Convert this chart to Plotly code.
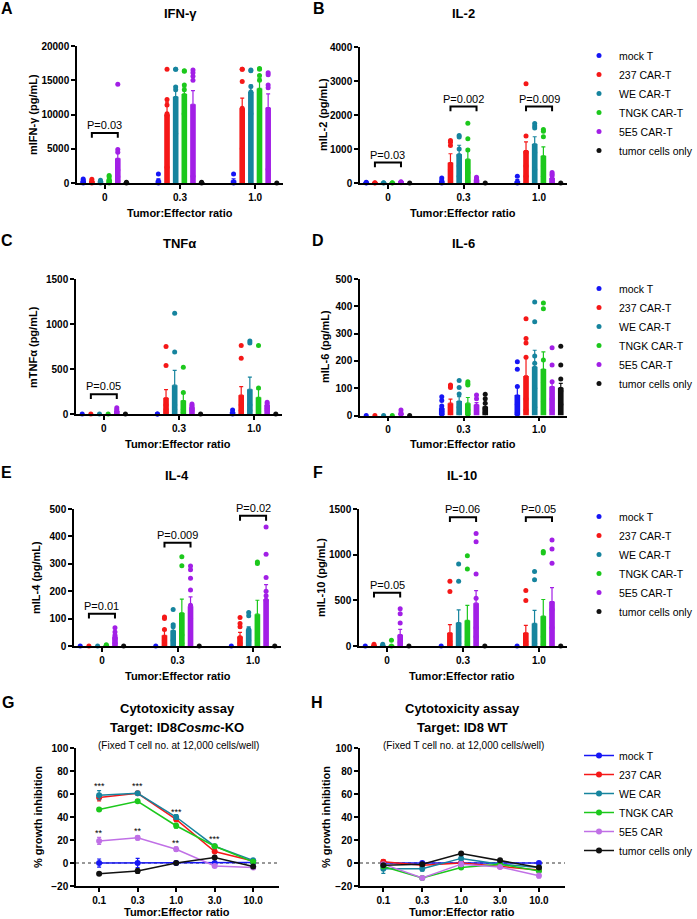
import plotly.graph_objects as go

W, H = 697, 919
FONT = "Liberation Sans, Arial, sans-serif"

# ---------------- data ----------------
groups = ["0", "0.3", "1.0"]
series = ["mock T", "237 CAR-T", "WE CAR-T", "TNGK CAR-T", "5E5 CAR-T", "tumor cells only"]
colors = ["#1616f5", "#f51818", "#16849e", "#1cc81c", "#a21fe6", "#111111"]

# IFN-gamma (pg/mL): bar = mean, err = SEM (upper), pts = individual wells
ifng_mean = [[300, 350, 350], [250, 10000, 10900], [150, 12600, 13300],
             [500, 13000, 13800], [3600, 11500, 11000], [100, 100, 0]]
ifng_err = [[100, 250, 250], [100, 1800, 1500], [60, 1500, 1000],
            [200, 1000, 1500], [1100, 2000, 2000], [30, 40, 0]]
ifng_pts = [
    [[600, 400, 150, 0], [1300, 300, 0], [1300, 150, 0]],
    [[550, 300, 100, 0], [16600, 12200, 11400, 10100, 9900, 2300], [16600, 16600, 14800, 10900, 5000]],
    [[400, 150, 0], [16600, 16600, 14000, 13600, 7200], [16500, 16400, 14100, 13300, 10100]],
    [[1100, 900, 500, 200, 0], [16400, 16300, 14300, 13600, 10200, 10000], [16700, 16600, 15700, 15000, 10100]],
    [[14400, 4900, 4500, 1900, 900, 300], [16500, 16100, 15600, 15000, 1000], [16100, 15800, 14300, 13900, 2000]],
    [[100, 0], [100, 0], [0]],
]
ifng_p = [(0, 7300, "P=0.03")]

# IL-2
il2_mean = [[10, 50, 60], [10, 600, 950], [5, 850, 1150], [5, 700, 800], [30, 100, 150], [0, 0, 0]]
il2_err = [[5, 30, 40], [5, 260, 260], [5, 260, 210], [5, 300, 260], [10, 30, 50], [0, 0, 0]]
il2_pts = [
    [[20, 0, 10], [150, 70, 0], [200, 20, 0]],
    [[10, 0], [1250, 1200, 1100, 400, 150, 100], [2920, 1380, 900, 500, 200]],
    [[5, 0], [1400, 1350, 1000, 800, 500, 200], [1750, 1680, 1620, 900, 400]],
    [[5, 0], [1760, 1300, 970, 300, 50], [1570, 1520, 1360, 500, 200]],
    [[40, 20, 10], [170, 120, 70, 40], [310, 260, 210, 120, 40]],
    [[0], [0], [0]],
]
il2_p = [(0, 600, "P=0.03"), (1, 2250, "P=0.002"), (2, 2250, "P=0.009")]

# TNF-alpha
tnf_mean = [[0, 0, 15], [0, 180, 210], [0, 320, 275], [0, 150, 185], [35, 75, 100], [0, 0, 0]]
tnf_err = [[0, 0, 15], [0, 90, 95], [0, 165, 135], [0, 80, 90], [15, 15, 15], [0, 0, 0]]
tnf_pts = [
    [[0], [0, 0], [45, 10, 0]],
    [[0], [750, 540, 100, 50, 20], [760, 620, 100, 40]],
    [[0], [1120, 690, 100, 50], [810, 790, 100, 40]],
    [[0], [520, 240, 50, 20], [760, 290, 60, 30]],
    [[70, 50, 30, 10], [110, 95, 80, 60, 40], [130, 110, 90, 60, 40]],
    [[0], [0], [0]],
]
tnf_p = [(0, 219, "P=0.05")]

# IL-6
il6_mean = [[0, 27, 75], [0, 45, 145], [0, 53, 179], [0, 45, 170], [8, 39, 106], [0, 33, 102]]
il6_err = [[0, 8, 30], [0, 15, 64], [0, 16, 60], [0, 21, 63], [4, 8, 18], [0, 10, 16]]
il6_pts = [
    [[0], [69, 55, 35, 25, 15, 5], [197, 169, 106, 40, 10, 5]],
    [[0], [112, 108, 103, 30, 10], [354, 282, 266, 213, 60, 20]],
    [[0], [128, 103, 79, 30, 10], [416, 343, 218, 191, 100, 30]],
    [[0], [124, 116, 112, 20, 5], [412, 391, 203, 120, 50]],
    [[20, 10, 5], [75, 61, 35, 15], [248, 185, 124, 60, 20]],
    [[0], [78, 61, 45, 25, 10], [254, 185, 134, 90, 40]],
]
il6_p = []

# IL-4
il4_mean = [[0, 0, 0], [0, 39, 35], [0, 57, 60], [3, 121, 116], [35, 145, 171], [0, 0, 0]]
il4_err = [[0, 0, 0], [0, 18, 15], [0, 25, 10], [2, 50, 51], [10, 34, 53], [0, 0, 0]]
il4_pts = [
    [[0], [0], [0]],
    [[0], [106, 100, 60, 20, 5], [104, 82, 70, 30, 10]],
    [[0], [133, 78, 70, 20], [122, 110, 61, 20]],
    [[5, 2], [326, 293, 40, 10], [307, 301, 20]],
    [[67, 51, 39, 27, 10], [292, 278, 247, 204, 149, 100], [434, 335, 250, 200, 183, 167]],
    [[0], [0], [0]],
]
il4_p = [(0, 118, "P=0.01"), (1, 377, "P=0.009"), (2, 475, "P=0.02")]

# IL-10
il10_mean = [[0, 0, 0], [10, 145, 145], [10, 255, 247], [5, 280, 327], [124, 469, 487], [0, 0, 0]]
il10_err = [[0, 0, 0], [5, 88, 80], [5, 141, 142], [5, 164, 182], [58, 138, 153], [0, 0, 0]]
il10_pts = [
    [[0], [0], [0]],
    [[20, 5], [709, 596, 50, 20], [607, 498, 50, 20]],
    [[20, 5], [898, 709, 100, 30], [815, 724, 100, 30]],
    [[62, 0], [989, 844, 50, 20], [1036, 1018, 100, 20]],
    [[407, 353, 251, 98, 40], [1233, 1142, 789, 524, 200, 100], [1160, 1062, 905, 400, 200]],
    [[0], [0], [0]],
]
il10_p = [(0, 584, "P=0.05"), (1, 1411, "P=0.06"), (2, 1411, "P=0.05")]

# cytotoxicity (% growth inhibition)
ratios = ["0.1", "0.3", "1.0", "3.0", "10.0"]
cyto_names = ["mock T", "237 CAR", "WE CAR", "TNGK CAR", "5E5 CAR", "tumor cells only"]
cyto_colors = ["#1616f5", "#f51818", "#16849e", "#1cc81c", "#c070e6", "#111111"]
ko_mean = [[0, 0, 0, 0, 0.5], [57, 60.6, 38, 10, 1.7], [59, 60.6, 40, 14.6, 2.3],
           [46.6, 53.6, 32.4, 14.6, 1], [19.2, 21.9, 12, -2.6, -4], [-9.3, -7, 0, 4.7, -3]]
ko_err = [[3.5, 4, 1.5, 1, 1], [3, 1, 2, 1, 1], [4, 1, 2, 1.5, 1],
          [1, 1, 2, 1, 1], [3, 2, 2, 1, 1], [1, 2, 1, 1, 1]]
ko_stars = [(0, 69, "***"), (1, 69, "***"), (2, 46.5, "***"), (3, 22.5, "***"),
            (0, 28, "**"), (1, 29.5, "**"), (2, 19, "**")]
wt_mean = [[0, 0, 0, 0, 0], [1, -2, 0, -3, -6], [-5, -5, 4, -1, -4],
           [-3, -13, -4, -1, -7], [-1, -13, -1, -3.5, -11], [-2, -1, 8.2, 2.3, -4]]
wt_err = [[1, 1, 1, 1, 1], [2, 1, 1, 1, 2], [4, 2, 2, 1, 1],
          [1, 1, 1, 1, 1], [1, 1, 2, 1, 2], [1, 1, 1, 1, 1]]


# ---------------- helpers ----------------
def fx(p):
    return p / W


def fy(p):
    return 1 - p / H


BAR_STEP = 0.115
BAR_W = 0.075

fig = go.Figure()
layout = {}
annotations = []
shapes = []


def text(x, y, s, size=11, angle=0, **kw):
    annotations.append(dict(x=fx(x), y=fy(y), xref="paper", yref="paper", text=s,
                            showarrow=False, textangle=angle, xanchor="center",
                            yanchor="middle", font=dict(family=FONT, size=size, color="black"), **kw))


def axis_style():
    return dict(showline=True, linecolor="black", linewidth=1.5, ticks="outside",
                ticklen=4, tickwidth=1.5, tickcolor="black", showgrid=False, zeroline=False,
                automargin=False, tickformat="d",
                tickfont=dict(family=FONT, size=10, color="black", weight="bold"))


def bar_panel(n, box, ymax, dtick, mean, err, pts, brackets, legend=None):
    xa, ya = f"x{n}", f"y{n}"
    x0, x1, ytop, ybot = box
    layout[f"xaxis{n}"] = dict(axis_style(), domain=[fx(x0), fx(x1)], anchor=ya,
                               range=[-0.37, 2.37], tickvals=[0, 1, 2], ticktext=groups)
    layout[f"yaxis{n}"] = dict(axis_style(), domain=[fy(ybot), fy(ytop)], anchor=xa,
                               range=[0, ymax], dtick=dtick, tick0=0)
    for i in range(len(series)):
        xs = [g + (i - 2.5) * BAR_STEP for g in range(3)]
        fig.add_trace(go.Bar(x=xs, y=mean[i], width=BAR_W, marker_color=colors[i],
                             marker_line_width=0, showlegend=False, xaxis=xa, yaxis=ya,
                             error_y=dict(type="data", symmetric=False, array=err[i],
                                          arrayminus=[0, 0, 0], color=colors[i],
                                          thickness=1.2, width=2)))
    for i, name in enumerate(series):
        px_, py_ = [], []
        for g in range(3):
            for v in pts[i][g]:
                px_.append(g + (i - 2.5) * BAR_STEP)
                py_.append(v)
        fig.add_trace(go.Scatter(x=px_, y=py_, mode="markers", name=name, cliponaxis=False,
                                 marker=dict(size=5, color=colors[i]), xaxis=xa, yaxis=ya,
                                 showlegend=legend is not None, legend=legend or "legend"))
    drop = ymax * 0.035
    for g, yb, label in brackets:
        a = g + (1 - 2.5) * BAR_STEP
        b = g + (4 - 2.5) * BAR_STEP
        shapes.append(dict(type="path", xref=xa, yref=ya, line=dict(color="black", width=2),
                           path=f"M {a},{yb - drop} L {a},{yb} L {b},{yb} L {b},{yb - drop}"))
        annotations.append(dict(x=(a + b) / 2, y=yb, xref=xa, yref=ya, text=label,
                                showarrow=False, yanchor="bottom", yshift=0,
                                font=dict(family=FONT, size=11, color="black")))


def line_panel(n, box, mean, err, legend=None):
    xa, ya = f"x{n}", f"y{n}"
    x0, x1, ytop, ybot = box
    layout[f"xaxis{n}"] = dict(axis_style(), domain=[fx(x0), fx(x1)], anchor=ya,
                               range=[-0.6, 4.67], tickvals=list(range(5)), ticktext=ratios)
    layout[f"yaxis{n}"] = dict(axis_style(), domain=[fy(ybot), fy(ytop)], anchor=xa,
                               range=[-20, 100], dtick=20, tick0=-20)
    shapes.append(dict(type="line", xref=f"{xa} domain", yref=ya, x0=0, x1=1, y0=0, y1=0,
                       layer="below", line=dict(color="#333333", width=1, dash="dot")))
    for i, name in enumerate(cyto_names):
        fig.add_trace(go.Scatter(x=list(range(5)), y=mean[i], mode="lines+markers", name=name,
                                 line=dict(color=cyto_colors[i], width=1.5),
                                 marker=dict(size=6, color=cyto_colors[i]), cliponaxis=False,
                                 error_y=dict(type="data", array=err[i], color=cyto_colors[i],
                                              thickness=1.2, width=2),
                                 xaxis=xa, yaxis=ya, showlegend=legend is not None,
                                 legend=legend or "legend"))


# ---------------- panels ----------------
bar_panel(1, (77, 283, 46, 183), 20000, 5000, ifng_mean, ifng_err, ifng_pts, ifng_p)
bar_panel(2, (360, 567, 47, 183), 4000, 1000, il2_mean, il2_err, il2_pts, il2_p, "legend")
bar_panel(3, (76, 282, 279, 414), 1500, 500, tnf_mean, tnf_err, tnf_pts, tnf_p)
bar_panel(4, (360, 567, 279, 415.5), 500, 100, il6_mean, il6_err, il6_pts, il6_p, "legend2")
bar_panel(5, (74, 281, 509, 646), 500, 100, il4_mean, il4_err, il4_pts, il4_p)
bar_panel(6, (359, 567, 509, 646), 1500, 500, il10_mean, il10_err, il10_pts, il10_p, "legend3")
line_panel(7, (76, 279, 748, 886), ko_mean, ko_err)
line_panel(8, (360, 565, 748, 886), wt_mean, wt_err, "legend4")

for g, ys, s in ko_stars:
    annotations.append(dict(x=g, y=ys, xref="x7", yref="y7", text=s, showarrow=False,
                            yanchor="middle", yshift=-2, font=dict(family=FONT, size=9, color="black")))

# panel letters
for x, y, s in [(7, 8, "A"), (319, 8, "B"), (7, 241, "C"), (318, 241, "D"),
                (7, 472, "E"), (318, 472, "F"), (8, 702, "G"), (317, 702, "H")]:
    text(x, y, f"<b>{s}</b>", size=16)

# panel titles
for x, y, s in [(180, 13, "IFN-γ"), (463, 13, "IL-2"), (179, 243, "TNFα"),
                (463, 243, "IL-6"), (177, 475, "IL-4"), (462, 475, "IL-10")]:
    text(x, y, f"<b>{s}</b>", size=13)

# axis titles
for x, y, s in [(33, 115, "mIFN-γ (pg/mL)"), (323, 115, "mIL-2 (pg/mL)"),
                (33, 347, "mTNFα (pg/mL)"), (325, 347, "mIL-6 (pg/mL)"),
                (36, 578, "mIL-4 (pg/mL)"), (321, 578, "mIL-10 (pg/mL)"),
                (38, 817, "% growth inhibition"), (326, 817, "% growth inhibition")]:
    text(x, y, f"<b>{s}</b>", size=11, angle=-90)
for x, y, s in [(180, 213, "Tumor:Effector ratio"), (463, 213, "Tumor:Effector ratio"),
                (178, 444, "Tumor:Effector ratio"), (463, 444, "Tumor:Effector ratio"),
                (178, 676, "Tumor:Effector ratio"), (462, 676, "Tumor:Effector ratio"),
                (177, 912, "Tumor:Effector ratio"), (462, 912, "Tumor:Effector ratio")]:
    text(x, y, f"<b>{s}</b>", size=11)

# cytotoxicity titles
for cx, target in [(177, "Target: ID8<i>Cosmc</i>-KO"), (462, "Target: ID8 WT")]:
    text(cx, 708, "<b>Cytotoxicity assay</b>", size=13)
    text(cx, 727, f"<b>{target}</b>", size=13)
    text(cx + 1, 745, "(Fixed T cell no. at 12,000 cells/well)", size=10)


def legend_box(top):
    return dict(x=fx(579), y=fy(top), xanchor="left", yanchor="top", bgcolor="rgba(0,0,0,0)",
                font=dict(family=FONT, size=10.5, color="black"), tracegroupgap=0,
                itemclick=False, itemdoubleclick=False)


layout.update(
    template="none",
    width=W, height=H, margin=dict(l=0, r=0, t=0, b=0, autoexpand=False),
    paper_bgcolor="white", plot_bgcolor="white", barmode="overlay",
    font=dict(family=FONT, color="black"),
    legend=legend_box(41), legend2=legend_box(274), legend3=legend_box(502),
    legend4=legend_box(741),
    annotations=annotations, shapes=shapes,
)
fig.update_layout(**layout)

# page body has a default 8px margin; drop it so the figure fills the window
fig.write_html("out.html", config={"displayModeBar": False},
               post_script="document.body.style.margin='0px';")
